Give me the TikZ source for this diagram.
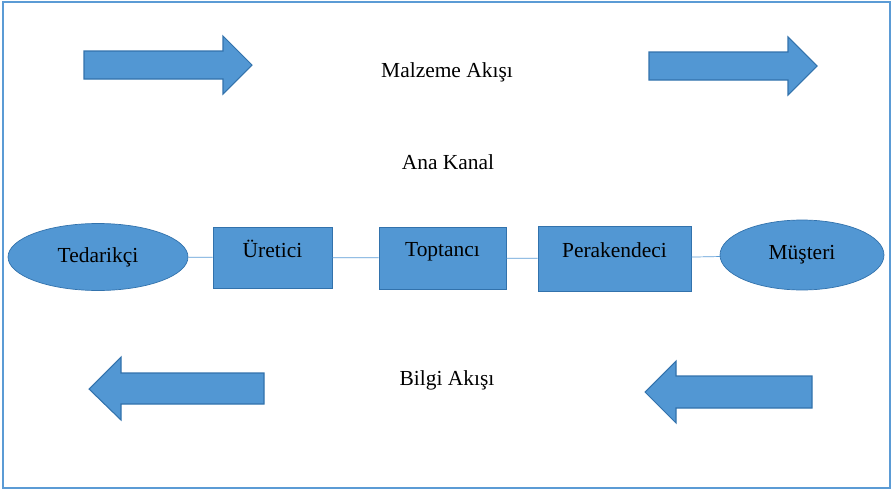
\documentclass[tikz,border=0pt]{standalone}
\usepackage{fontspec}
\setmainfont{Liberation Serif}
\usepackage{xcolor}
\usepackage{tikz}
\usetikzlibrary{shapes.geometric}
\definecolor{boxfill}{RGB}{82,151,211}
\definecolor{boxedge}{RGB}{50,114,172}
\definecolor{linkblue}{RGB}{91,155,213}

\begin{document}
\begin{tikzpicture}[x=0.02cm, y=-0.02cm, font=\fontsize{12.2}{14}\selectfont]
    \useasboundingbox (0, 0) rectangle (892, 490);
    \draw [linkblue, line width=0.8pt] (3, 2) rectangle (890, 488);
    % block arrows
    \filldraw [fill=boxfill, draw=boxedge, line width=0.6pt] (84, 51) -- (223, 51) -- (223, 36) -- (252, 65) -- (223, 94) -- (223, 79) -- (84, 79) -- cycle;
    \filldraw [fill=boxfill, draw=boxedge, line width=0.6pt] (649, 52) -- (788, 52) -- (788, 37) -- (817, 66) -- (788, 95) -- (788, 80) -- (649, 80) -- cycle;
    \filldraw [fill=boxfill, draw=boxedge, line width=0.6pt] (264, 373) -- (121, 373) -- (121, 357) -- (89, 389) -- (121, 420) -- (121, 404) -- (264, 404) -- cycle;
    \filldraw [fill=boxfill, draw=boxedge, line width=0.6pt] (812, 376) -- (676, 376) -- (676, 361) -- (645, 392) -- (676, 423) -- (676, 408) -- (812, 408) -- cycle;
    \node (malzeme) at (447, 72) {Malzeme Akışı};
    \node (kanal) at (448, 162) {Ana Kanal};
    \node (bilgi) at (447, 380) {Bilgi Akışı};
    % channel
    \node [ellipse, fill=boxfill, draw=boxedge, minimum width=3.6cm, minimum height=1.34cm] (tedarikci) at (98, 257) {Tedarikçi};
    \node [rectangle, fill=boxfill, draw=boxedge, minimum width=2.38cm, minimum height=1.22cm, text depth=0.35cm] (uretici) at (272.5, 257.5) {Üretici};
    \node [rectangle, fill=boxfill, draw=boxedge, minimum width=2.54cm, minimum height=1.24cm, text depth=0.35cm] (toptanci) at (442.5, 258) {Toptancı};
    \node [rectangle, fill=boxfill, draw=boxedge, minimum width=3.06cm, minimum height=1.3cm, text depth=0.35cm] (perakendeci) at (614.5, 258.5) {Perakendeci};
    \node [ellipse, fill=boxfill, draw=boxedge, minimum width=3.28cm, minimum height=1.4cm] (musteri) at (802, 255) {Müşteri};
    \draw [linkblue] (tedarikci) -- (uretici);
    \draw [linkblue] (uretici) -- (toptanci);
    \draw [linkblue] (toptanci) -- (perakendeci);
    \draw [linkblue] (perakendeci) -- (musteri);
\end{tikzpicture}
\end{document}
